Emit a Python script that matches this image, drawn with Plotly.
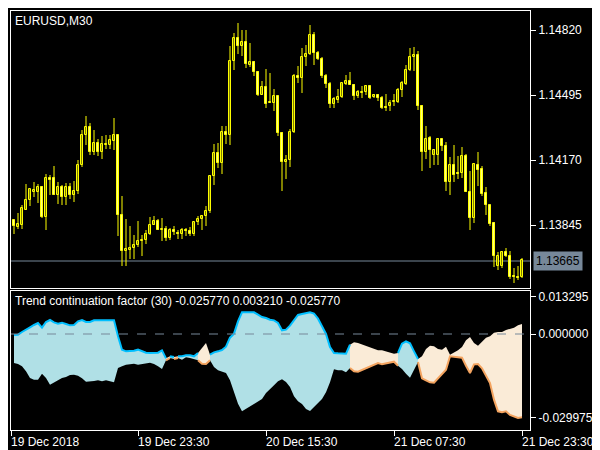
import plotly.graph_objects as go

# EURUSD M30 candles, prices in points (1e-5)
OPEN = [113870, 113835, 113845, 113920, 113970, 114010, 114010, 114035, 113885, 114080,
        114080, 113995, 114035, 113985, 114035, 113995, 114015, 114145, 114295, 114335,
        114210, 114255, 114210, 114245, 114245, 114265, 114295, 113895, 113715, 113720,
        113730, 113745, 113765, 113770, 113800, 113845, 113865, 113820, 113825, 113780,
        113820, 113805, 113800, 113820, 113815, 113800, 113860, 113875, 113890, 113915,
        114090, 114205, 114155, 114310, 114295, 114665, 114780, 114740, 114760, 114645,
        114660, 114610, 114495, 114535, 114455, 114455, 114490, 114305, 114160, 114170,
        114310, 114590, 114580, 114685, 114700, 114795, 114705, 114675, 114590, 114550,
        114450, 114470, 114485, 114550, 114565, 114545, 114490, 114505, 114510, 114540,
        114485, 114495, 114480, 114435, 114440, 114460, 114460, 114520, 114550, 114620,
        114685, 114695, 114440, 114210, 114280, 114195, 114195, 114275, 114240, 114060,
        114145, 114105, 114105, 114190, 114010, 113880, 114145, 114125, 114005, 113945,
        113855, 113640, 113640, 113710, 113690, 113590, 113585, 113585]
HIGH = [113870, 113905, 113945, 114050, 114025, 114060, 114050, 114040, 114100, 114095,
        114140, 114060, 114045, 114055, 114055, 114065, 114170, 114320, 114390, 114355,
        114320, 114275, 114290, 114295, 114295, 114380, 114295, 113990, 113875, 113840,
        113795, 113865, 113795, 113820, 113885, 113890, 113875, 113880, 113840, 113830,
        113840, 113820, 113830, 113830, 113835, 113860, 113890, 113895, 113940, 114095,
        114250, 114255, 114340, 114340, 114740, 114805, 114855, 114820, 114820, 114755,
        114665, 114615, 114565, 114625, 114605, 114525, 114490, 114310, 114195, 114325,
        114600, 114640, 114730, 114745, 114845, 114810, 114715, 114685, 114600, 114560,
        114485, 114525, 114555, 114595, 114610, 114550, 114520, 114540, 114545, 114540,
        114500, 114500, 114490, 114500, 114470, 114500, 114530, 114565, 114645, 114730,
        114735, 114715, 114445, 114340, 114290, 114225, 114280, 114275, 114260, 114185,
        114245, 114190, 114235, 114200, 114115, 114155, 114210, 114140, 114035, 113945,
        113860, 113710, 113715, 113730, 113715, 113630, 113640, 113680]
LOW = [113800, 113825, 113825, 113920, 113940, 113985, 113955, 113880, 113820, 113995,
       113995, 113950, 113945, 113945, 113975, 113960, 114000, 114135, 114245, 114195,
       114195, 114190, 114175, 114225, 114225, 114220, 113790, 113640, 113640, 113675,
       113675, 113735, 113690, 113750, 113795, 113845, 113820, 113765, 113765, 113770,
       113795, 113775, 113775, 113790, 113790, 113790, 113845, 113820, 113840, 113905,
       114045, 114130, 114100, 114250, 114245, 114620, 114700, 114690, 114630, 114635,
       114590, 114490, 114495, 114430, 114455, 114415, 114290, 114015, 114075, 114135,
       114305, 114555, 114505, 114640, 114695, 114645, 114670, 114580, 114530, 114430,
       114430, 114455, 114480, 114545, 114545, 114470, 114480, 114480, 114495, 114475,
       114480, 114465, 114425, 114415, 114415, 114440, 114455, 114485, 114545, 114615,
       114615, 114420, 114115, 114175, 114130, 114145, 114145, 114215, 114015, 113995,
       114060, 114075, 114080, 114010, 113820, 113855, 114040, 113990, 113895, 113840,
       113635, 113620, 113630, 113685, 113575, 113555, 113570, 113580]
CLOSE = [113840, 113850, 113930, 113970, 114025, 114020, 114035, 113885, 114080, 114070,
         113995, 114035, 113985, 114035, 113995, 114015, 114145, 114295, 114335, 114210,
         114255, 114210, 114250, 114250, 114270, 114295, 113895, 113715, 113725, 113730,
         113745, 113765, 113770, 113800, 113845, 113865, 113820, 113825, 113780, 113820,
         113810, 113800, 113820, 113815, 113800, 113860, 113875, 113890, 113915, 114090,
         114205, 114155, 114310, 114295, 114665, 114780, 114740, 114760, 114650, 114660,
         114610, 114495, 114535, 114450, 114460, 114490, 114305, 114160, 114170, 114310,
         114590, 114580, 114685, 114700, 114795, 114705, 114675, 114590, 114550, 114450,
         114475, 114485, 114555, 114565, 114545, 114490, 114510, 114510, 114540, 114480,
         114495, 114480, 114430, 114430, 114455, 114465, 114520, 114555, 114620, 114685,
         114695, 114440, 114210, 114275, 114220, 114220, 114275, 114240, 114060, 114145,
         114095, 114100, 114190, 114010, 113880, 114150, 114120, 114000, 113945, 113850,
         113690, 113690, 113710, 113690, 113585, 113585, 113580, 113670]

# Trend continuation factor bands, in 1e-6
TCF_UPPER = [-357, -238, 714, 1428, 2380, 3213, 3927, 2261, 4284, 4998,
             4165, 3689, 4046, 3570, 3094, 3213, 4522, 4998, 4284, 4284,
             4879, 4879, 4879, 4879, 4879, 4879, -833, -5593, -6188, -6188,
             -5950, -5593, -6188, -6664, -6783, -6783, -6664, -5831, -8687, -7973,
             -8211, -7973, -7973, -7616, -7616, -7973, -6783, -4998, -3213, -7378,
             -6545, -6188, -5712, -4522, -1309, 119, 4522, 7735, 7735, 7735,
             7735, 6902, 6069, 5712, 5117, 4879, 3927, 1309, 1547, 2975,
             4879, 6783, 7140, 7497, 7735, 7259, 5474, 2737, 0, -4641,
             -6783, -6902, -7021, -7021, -3808, -2975, -3213, -3689, -4165, -4641,
             -5117, -5831, -5831, -6188, -6545, -7021, -6783, -3451, -2618, -3332,
             -6188, -8925, -7973, -5355, -4165, -4403, -5355, -5593, -4522, -7378,
             -6664, -5831, -4641, -2261, -1071, -3213, -4165, -2618, -1309, -833,
             476, 714, 714, 1428, 1785, 2261, 3094, 3570]
TCF_LOWER = [-10353, -10710, -11543, -13328, -15708, -16303, -16303, -14161, -15708, -18088,
             -17255, -16541, -15708, -15351, -14637, -14518, -14875, -15827, -17017, -16779,
             -16779, -16541, -16898, -16541, -16779, -17255, -12138, -11543, -10948, -10829,
             -10591, -10948, -10948, -10472, -10234, -10710, -11543, -12495, -9401, -8568,
             -8925, -8568, -9163, -8330, -8568, -8925, -9401, -10591, -10710, -9401,
             -11781, -12971, -13566, -13923, -16541, -20825, -24871, -27608, -26775, -25823,
             -24871, -24038, -23205, -21063, -19635, -18326, -16898, -16184, -17136, -18921,
             -22253, -24038, -24990, -26775, -27489, -26418, -24633, -23205, -20825, -17255,
             -12614, -12971, -12971, -13685, -12138, -13328, -13447, -12852, -12376, -11781,
             -11067, -10353, -10829, -10472, -10115, -9877, -11305, -12495, -14161, -15589,
             -12733, -9996, -15827, -16541, -17255, -17374, -15708, -14161, -12733, -7973,
             -8211, -8211, -8449, -11305, -13923, -10829, -10710, -12257, -14875, -17493,
             -23443, -27608, -27965, -27608, -28917, -29512, -29988, -29750]
# 1 = continuation up (blue), 0 = down (peach)
TCF_STATE = ([1] * 38 + [0, 1, 0] + [1] * 5 + [0] * 3 + [1] * 35 + [0] * 12
             + [1] * 5 + [0] * 27)

PRICE_TICKS = [1.13845, 1.14170, 1.14495, 1.14820]
TCF_TICKS = [-0.029975, 0.0, 0.013295]
TIME_TICKS = [-0.75, 31, 63, 95, 127]
TIME_LABELS = ["19 Dec 2018", "19 Dec 23:30", "20 Dec 15:30", "21 Dec 07:30", "21 Dec 23:30"]
LAST_PRICE = 1.13665

FONT = "Liberation Sans, Arial, sans-serif"
BG = "black"
BORDER = "white"
YELLOW = "#ffff00"
x = list(range(len(CLOSE)))

fig = go.Figure()

# candles: wicks as one broken line, bodies as bars
o = [v / 1e5 for v in OPEN]
h = [v / 1e5 for v in HIGH]
l = [v / 1e5 for v in LOW]
c = [v / 1e5 for v in CLOSE]
wx, wy = [], []
for i in x:
    wx += [i, i, None]
    wy += [l[i], h[i], None]
fig.add_trace(go.Scatter(x=wx, y=wy, mode="lines", line=dict(color=YELLOW, width=1),
                         hoverinfo="skip", showlegend=False, xaxis="x", yaxis="y"))
body_base = [min(a, b) for a, b in zip(o, c)]
body_len = [max(abs(b - a), 0.000012) for a, b in zip(o, c)]
body_fill = ["black" if b > a else "white" for a, b in zip(o, c)]
fig.add_trace(go.Bar(x=x, y=body_len, base=body_base, width=0.62,
                     marker=dict(color=body_fill, line=dict(color=YELLOW, width=1)),
                     hoverinfo="skip", showlegend=False, xaxis="x", yaxis="y"))

# indicator fills, one polygon per run of equal state
up = [v / 1e6 for v in TCF_UPPER]
lo = [v / 1e6 for v in TCF_LOWER]
runs = []
start = 0
for i in range(1, len(TCF_STATE) + 1):
    if i == len(TCF_STATE) or TCF_STATE[i] != TCF_STATE[start]:
        runs.append((start, i, TCF_STATE[start]))
        start = i

for s, e, st in runs:
    e2 = min(e + 1, len(x))
    xs = x[s:e2]
    fig.add_trace(go.Scatter(
        x=xs + xs[::-1], y=up[s:e2] + lo[s:e2][::-1],
        fill="toself", fillcolor="#b0e0e6" if st else "#faebd7", line=dict(width=0),
        mode="lines", hoverinfo="skip", showlegend=False, xaxis="x2", yaxis="y2",
    ))

for s, e, st in runs:
    e2 = min(e + 1, len(x))
    xs = x[s:e2]
    ys, col = (up[s:e2], "#00bfff") if st else (lo[s:e2], "#f4a460")
    fig.add_trace(go.Scatter(x=xs, y=ys, mode="lines", line=dict(color=col, width=2),
                             hoverinfo="skip", showlegend=False, xaxis="x2", yaxis="y2"))

fig.add_shape(type="line", xref="x domain", yref="y", x0=0, x1=1, y0=LAST_PRICE, y1=LAST_PRICE,
              line=dict(color="#778899", width=1), layer="below")
fig.add_shape(type="line", xref="x2 domain", yref="y2", x0=0, x1=1, y0=0, y1=0,
              line=dict(color="#778899", width=1, dash="dash"), layer="above")

axis_common = dict(showgrid=False, zeroline=False, showline=True, mirror=True,
                   linecolor=BORDER, linewidth=1, tickcolor=BORDER, ticklen=5,
                   tickfont=dict(color="white", size=12, family=FONT))

top_dom = [(422 - 280) / 419, 1.0]
bot_dom = [0.0, (422 - 283) / 419]

fig.update_layout(
    width=600, height=450, paper_bgcolor=BG, plot_bgcolor=BG,
    margin=dict(l=3, r=78, t=3, b=28), bargap=0,
    xaxis=dict(range=[-0.75, 129], anchor="y", showticklabels=False, ticks="", **axis_common),
    xaxis2=dict(range=[-0.75, 129], anchor="y2", matches="x", ticks="outside",
                tickvals=TIME_TICKS, ticktext=[""] * len(TIME_TICKS), **axis_common),
    yaxis=dict(domain=top_dom, side="right", range=[1.13530, 1.14915], ticks="outside",
               tickvals=PRICE_TICKS, ticktext=[f"{v:.5f}" for v in PRICE_TICKS], **axis_common),
    yaxis2=dict(domain=bot_dom, side="right", range=[-0.03427, 0.01535], ticks="outside",
                tickvals=TCF_TICKS, ticktext=[f"{v:.6f}" for v in TCF_TICKS], **axis_common),
)

for tv, tl in zip(TIME_TICKS, TIME_LABELS):
    fig.add_annotation(x=tv, y=0, xref="x2", yref="paper", yshift=-3, text=tl,
                       showarrow=False, xanchor="left", yanchor="top", xshift=-2,
                       font=dict(color="white", size=12, family=FONT))

fig.add_annotation(x=0, y=1, xref="x domain", yref="y domain", text="EURUSD,M30",
                   showarrow=False, xanchor="left", yanchor="top", xshift=2, yshift=-1,
                   font=dict(color="white", size=12, family=FONT))
fig.add_annotation(x=0, y=1, xref="x2 domain", yref="y2 domain",
                   text="Trend continuation factor (30) -0.025770 0.003210 -0.025770",
                   showarrow=False, xanchor="left", yanchor="top", xshift=2, yshift=-1,
                   font=dict(color="white", size=12, family=FONT))
fig.add_annotation(x=1, y=LAST_PRICE, xref="x domain", yref="y", text="1.13665",
                   showarrow=False, xanchor="left", yanchor="middle", xshift=3,
                   bgcolor="#778899", borderpad=2,
                   font=dict(color="black", size=12, family=FONT))

fig.write_html("out.html")
